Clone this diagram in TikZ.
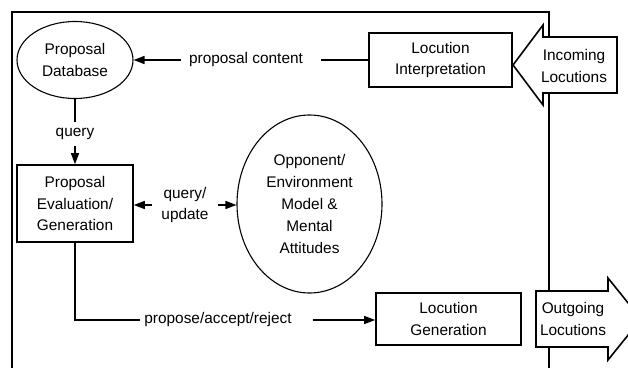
\documentclass[tikz,border=0pt]{standalone}
\usepackage{fontspec}
\setmainfont{Liberation Sans}
\usetikzlibrary{shapes.geometric,arrows.meta}

\begin{document}
\begin{tikzpicture}[x=1pt,y=-1pt,
  font=\fontsize{15.4}{21.8}\selectfont,
  box/.style={draw,line width=1.6pt,align=center,inner sep=0pt},
  blob/.style={draw,ellipse,line width=1.1pt,align=center,inner sep=0pt},
  lbl/.style={align=center,inner xsep=8pt,inner ysep=4pt},
  conn/.style={line width=1.4pt},
  tip/.style={-{Triangle[length=11pt,width=8pt]}}]
  \useasboundingbox (0,0) rectangle (628,367);
  \clip (0,0) rectangle (628,367);
  % agent frame
  \draw[line width=1.8pt] (12,380) -- (12,12) -- (549,12) -- (549,380);
  % big in/out arrows
  \draw[line width=1.6pt,fill=white] (513,65) -- (543,25) -- (543,37) -- (617,37) -- (617,93) -- (543,93) -- (543,105) -- cycle;
  \draw[line width=1.6pt,fill=white] (536,291) -- (608,291) -- (608,278) -- (641,319) -- (608,360) -- (608,347) -- (536,347) -- cycle;
  \node[align=center] (incoming) at (574,66) {Incoming\\Locutions};
  \node[align=center] (outgoing) at (573,319) {Outgoing\\Locutions};
  % components
  \node[blob,minimum width=116pt,minimum height=77pt] (db) at (75,60) {Proposal\\Database};
  \node[box,minimum width=143pt,minimum height=54pt] (interp) at (440.5,60) {Locution\\Interpretation};
  \node[box,minimum width=116pt,minimum height=77pt] (evalgen) at (75,203.5) {Proposal\\Evaluation/\\Generation};
  \node[blob,minimum width=145pt,minimum height=178pt] (opp) at (309.5,204) {Opponent/\\Environment\\Model \&\\Mental\\Attitudes};
  \node[box,minimum width=145pt,minimum height=52pt] (locgen) at (448.5,319) {Locution\\Generation};
  % labels
  \node[lbl] (pc) at (246,60) {proposal content};
  \node[lbl,inner ysep=6pt] (q) at (75,134) {query};
  \node[lbl,inner xsep=9pt] (qu) at (185,205) {query/\\update};
  \node[lbl,inner xsep=4pt] (par) at (218,320) {propose/accept/reject};
  % connectors
  \draw[conn] (interp.west) -- ([xshift=10pt]pc.east);
  \draw[conn,tip] (pc.west) -- (pc.west -| db.east);
  \draw[conn] (db.south) -- (q.north);
  \draw[conn,tip] (q.south) -- (evalgen.north);
  \draw[conn,tip] (qu.west) -- (qu.west -| evalgen.east);
  \draw[conn,tip] (qu.east) -- (qu.east -| opp.west);
  \draw[conn] (evalgen.south) |- (par.west);
  \draw[conn,tip] ([xshift=17pt]par.east) -- (par.east -| locgen.west);
\end{tikzpicture}
\end{document}
